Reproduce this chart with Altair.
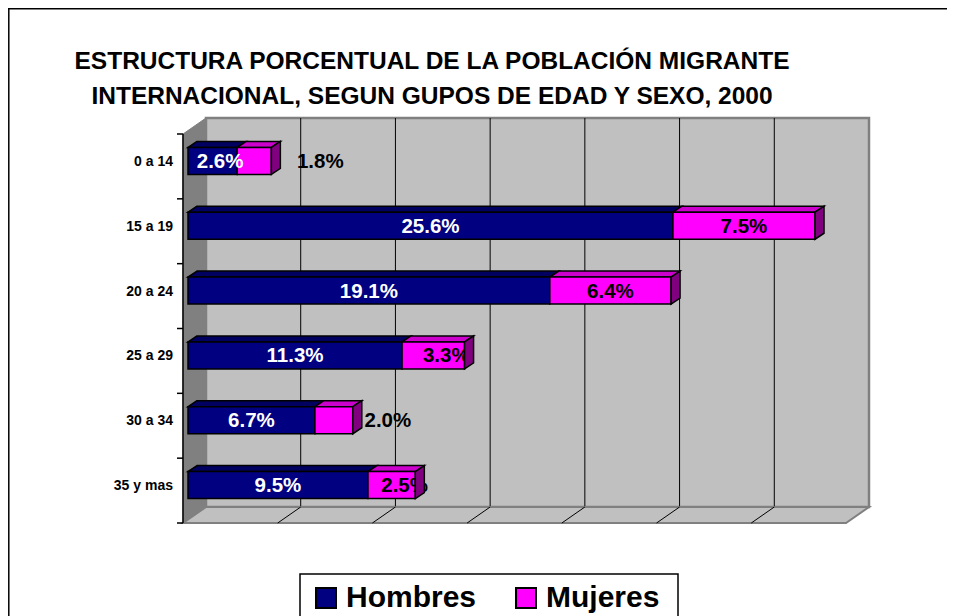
import altair as alt
import pandas as pd

# ---------------- data ----------------
categorias = ["0 a 14", "15 a 19", "20 a 24", "25 a 29", "30 a 34", "35 y mas"]
hombres = [2.6, 25.6, 19.1, 11.3, 6.7, 9.5]
mujeres = [1.8, 7.5, 6.4, 3.3, 2.0, 2.5]
series = ["Hombres", "Mujeres"]
grid_values = [5, 10, 15, 20, 25, 30]
titulo = ["ESTRUCTURA PORCENTUAL DE LA POBLACIÓN MIGRANTE",
          "INTERNACIONAL, SEGUN GUPOS DE EDAD Y SEXO, 2000"]

# ---------------- style ----------------
label_dx_h = [7.5, 0, 0, 0, 0, 0]      # px shift of the label (as Excel placed them)
label_dx_m = [66, 0, 0, 13, 54, 13]
FONT = "Liberation Sans"
C_H, C_M = "#000080", "#FF00FF"
C_H_TOP, C_M_TOP, C_M_SIDE = "#000060", "#CC00CC", "#800080"

W, H = 663, 389
PAD_L, PAD_T, PAD_R, PAD_B = 175, 126, 101, 93
XMAX, NCAT = 35, len(categorias)
PX, PY = W / XMAX, H / NCAT


def dx(p):
    return p / PX


def dy(p):
    return p / PY


BAR_X0 = dx(5)
BAR_HALF = dy(13.5)
BAR_C = 0.415
TOP_DX, TOP_DY = dx(9), dy(6)
WALL_DX, WALL_DY = dx(23), dy(16)

xs = alt.Scale(domain=[0, XMAX], nice=False, zero=False)
ys = alt.Scale(domain=[0, NCAT], nice=False, zero=False, reverse=True)


def X(f="x"):
    return alt.X(f + ":Q", scale=xs, axis=None, stack=None)


def Y(f="y"):
    return alt.Y(f + ":Q", scale=ys, axis=None, stack=None)


# ---------------- walls / floor ----------------
back = alt.Chart(pd.DataFrame([{"x": WALL_DX, "x2": XMAX + WALL_DX,
                                "y": -WALL_DY, "y2": NCAT - WALL_DY}])).mark_rect(
    fill="#C0C0C0", stroke="#808080", strokeWidth=2.5).encode(
    x=X(), x2="x2:Q", y=Y(), y2="y2:Q")

grid = alt.Chart(pd.DataFrame({"x": [v + WALL_DX for v in grid_values],
                               "y": -WALL_DY, "y2": NCAT - WALL_DY})).mark_rule(
    color="#000000", strokeWidth=1).encode(x=X(), y=Y(), y2="y2:Q")

left_wall = alt.Chart(pd.DataFrame([
    {"x": 0, "y": 0, "y2": NCAT},
    {"x": WALL_DX, "y": -WALL_DY, "y2": NCAT - WALL_DY}])).mark_area(
    orient="vertical", fill="#808080", stroke="#808080", strokeWidth=1).encode(
    x=X(), y=Y(), y2="y2:Q")

floor = alt.Chart(pd.DataFrame([
    {"y": NCAT, "x": 0, "x2": XMAX},
    {"y": NCAT - WALL_DY, "x": WALL_DX, "x2": XMAX + WALL_DX}])).mark_area(
    orient="horizontal", fill="#C0C0C0", stroke="#808080", strokeWidth=2).encode(
    y=Y(), x=X(), x2="x2:Q")

floor_grid = alt.Chart(pd.DataFrame({"x": grid_values,
                                     "x2": [v + WALL_DX for v in grid_values],
                                     "y": NCAT, "y2": NCAT - WALL_DY})).mark_rule(
    color="#000000", strokeWidth=1).encode(x=X(), x2="x2:Q", y=Y(), y2="y2:Q")

axis_line = alt.Chart(pd.DataFrame([{"x": 0, "y": 0, "y2": NCAT}])).mark_rule(
    color="black", strokeWidth=1.5).encode(x=X(), y=Y(), y2="y2:Q")

ticks = alt.Chart(pd.DataFrame({"y": list(range(NCAT + 1)), "x": -dx(6), "x2": 0})).mark_rule(
    color="black", strokeWidth=1.5).encode(x=X(), x2="x2:Q", y=Y())

cat_labels = alt.Chart(pd.DataFrame({"cat": categorias,
                                     "y": [i + 0.5 - dy(4.5) for i in range(NCAT)],
                                     "x": -dx(10)})).mark_text(
    align="right", baseline="middle", font=FONT, fontSize=14, fontWeight="bold",
    color="black").encode(x=X(), y=Y(), text="cat:N")

# ---------------- bars ----------------
front_rows, top_rows, side_rows, lab_rows = [], [], [], []
for i, (cat, h, m) in enumerate(zip(categorias, hombres, mujeres)):
    yc = i + BAR_C
    yt, yb = yc - BAR_HALF, yc + BAR_HALF
    segs = [("Hombres", 0, h, C_H_TOP), ("Mujeres", h, h + m, C_M_TOP)]
    for s, a, b, ctop in segs:
        x0, x1 = BAR_X0 + a, BAR_X0 + b
        front_rows.append({"cat": cat, "sexo": s, "x": x0, "x2": x1, "y": yt, "y2": yb})
        pid = f"{i}-{s}"
        top_rows.append({"id": pid, "fill": ctop, "y": yt, "x": x0, "x2": x1})
        top_rows.append({"id": pid, "fill": ctop, "y": yt - TOP_DY,
                         "x": x0 + TOP_DX, "x2": x1 + TOP_DX})
    xe = BAR_X0 + h + m
    side_rows.append({"id": i, "x": xe, "y": yt, "y2": yb})
    side_rows.append({"id": i, "x": xe + TOP_DX, "y": yt - TOP_DY, "y2": yb - TOP_DY})
    lab_rows.append({"sexo": "Hombres", "t": f"{h:.1f}%", "y": yc,
                     "x": BAR_X0 + h / 2 + dx(label_dx_h[i]), "c": "white"})
    lab_rows.append({"sexo": "Mujeres", "t": f"{m:.1f}%", "y": yc,
                     "x": BAR_X0 + h + m / 2 + dx(label_dx_m[i]), "c": "black"})

top = alt.Chart(pd.DataFrame(top_rows)).mark_area(
    orient="horizontal", stroke="black", strokeWidth=1.5, opacity=1).encode(
    y=Y(), x=X(), x2="x2:Q", detail="id:N", fill=alt.Fill("fill:N", scale=None))

front = alt.Chart(pd.DataFrame(front_rows)).mark_rect(
    stroke="black", strokeWidth=1.5, opacity=1).encode(
    x=X(), x2="x2:Q", y=Y(), y2="y2:Q",
    color=alt.Color("sexo:N", scale=alt.Scale(domain=series, range=[C_H, C_M]),
                    legend=alt.Legend(
                        orient="none", legendX=120, legendY=441, direction="horizontal",
                        title=None, labelFont=FONT, labelFontSize=30, labelFontWeight="bold",
                        labelColor="black", symbolType="square", symbolSize=400,
                        symbolStrokeColor="black", symbolStrokeWidth=2, symbolOpacity=1,
                        padding=8, columnPadding=34, labelOffset=5, labelLimit=300)))

labels = alt.Chart(pd.DataFrame(lab_rows)).mark_text(
    align="center", baseline="middle", font=FONT, fontSize=20.5, fontWeight="bold",
    dy=1).encode(x=X(), y=Y(), text="t:N", color=alt.Color("c:N", scale=None))

side = alt.Chart(pd.DataFrame(side_rows)).mark_area(
    orient="vertical", fill=C_M_SIDE, stroke="black", strokeWidth=1.5).encode(
    x=X(), y=Y(), y2="y2:Q", detail="id:N")

# ---------------- title, legend box & frame ----------------
title = alt.Chart(pd.DataFrame({"t": titulo, "yy": [-72, -37]})).mark_text(
    align="center", baseline="middle", font=FONT, fontSize=24.5, fontWeight="bold",
    color="black").encode(x=alt.value(249), y=alt.Y("yy:Q", scale=None), text="t:N")

legend_box = alt.Chart(pd.DataFrame({"a": [0]})).mark_rect(
    fill="white", stroke="black", strokeWidth=1.5).encode(
    x=alt.value(117), x2=alt.value(495), y=alt.value(440), y2=alt.value(H + PAD_B + 20))

frame_top = alt.Chart(pd.DataFrame({"a": [0]})).mark_rule(color="black", strokeWidth=1.5).encode(
    x=alt.value(-PAD_L), x2=alt.value(W + PAD_R), y=alt.value(-PAD_T + 0.8))
frame_left = alt.Chart(pd.DataFrame({"a": [0]})).mark_rule(color="black", strokeWidth=1.5).encode(
    x=alt.value(-PAD_L + 0.8), y=alt.value(-PAD_T), y2=alt.value(H + PAD_B))

chart = alt.layer(
    back, grid, left_wall, floor, floor_grid, axis_line, ticks, cat_labels,
    top, front, labels, side, title, legend_box, frame_top, frame_left
).properties(
    width=W, height=H,
    padding={"left": PAD_L, "top": PAD_T, "right": PAD_R, "bottom": PAD_B},
    autosize=alt.AutoSizeParams(type="none"),
    background="white",
).configure_view(strokeWidth=0)

chart.save("out.html", embed_options={"renderer": "svg", "actions": False})
